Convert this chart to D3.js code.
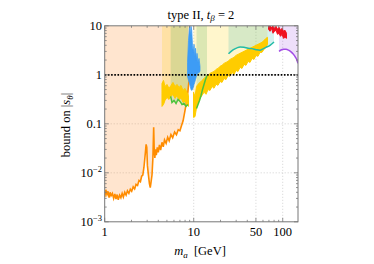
<!DOCTYPE html>
<html>
<head>
<meta charset="utf-8">
<script src="https://cdn.jsdelivr.net/npm/d3@7"></script>
<style>
  body { margin: 0; background: #fff; }
  svg { display: block; font-family: "Liberation Serif", "Times New Roman", serif; }
</style>
</head>
<body>
<div id="chart"></div>
<script>
// bound on |s_theta| vs m_a [GeV]
const xTicks = [1, 10, 50, 100]
const yTicks = [1e-3, 1e-2, 0.1, 1, 10]
const yTickLabels = ['10^−3', '10^−2', '0.1', '1', '10']
const xGrid = [10, 50, 100]
const yGrid = [0.01, 0.1, 1]

// [m_a, bound]
const orangeCurve = [
  [1.00, 0.0032], [1.03, 0.0045], [1.06, 0.0036], [1.09, 0.0042], [1.12, 0.0031], [1.15, 0.0040],
  [1.18, 0.0034], [1.22, 0.0038], [1.26, 0.0030], [1.30, 0.0037], [1.34, 0.0029], [1.38, 0.0036],
  [1.42, 0.0028], [1.47, 0.0035], [1.52, 0.0031], [1.57, 0.0038], [1.62, 0.0032], [1.68, 0.0040],
  [1.74, 0.0035], [1.80, 0.0043], [1.87, 0.0038], [1.94, 0.0046], [2.01, 0.0042], [2.09, 0.0052],
  [2.17, 0.0047], [2.25, 0.0058], [2.34, 0.0055], [2.43, 0.0070], [2.52, 0.0066], [2.60, 0.0085],
  [2.68, 0.0090], [2.76, 0.0130], [2.84, 0.0220], [2.92, 0.0380], [2.97, 0.0330], [3.02, 0.0140],
  [3.10, 0.0090], [3.18, 0.0060], [3.25, 0.0050], [3.32, 0.0065], [3.40, 0.0090], [3.48, 0.0200],
  [3.55, 0.0850], [3.60, 0.0300], [3.66, 0.0200], [3.72, 0.0300], [3.80, 0.0230], [3.90, 0.0330],
  [4.00, 0.0260], [4.12, 0.0370], [4.25, 0.0290], [4.40, 0.0420], [4.55, 0.0340], [4.70, 0.0470],
  [4.90, 0.0400], [5.10, 0.0530], [5.30, 0.0450], [5.55, 0.0600], [5.80, 0.0520], [6.10, 0.0680],
  [6.40, 0.0600], [6.70, 0.0760], [7.00, 0.0720], [7.30, 0.0920], [7.60, 0.1150], [7.95, 0.1800],
  [8.30, 0.2800], [8.60, 0.4500], [8.85, 0.7500], [9.05, 1.2000], [9.20, 2.0000], [9.33, 5.0000]
]

// [m_a, low, high] for the noisy bands
const yellowLeft = [
  [4.40, 0.226, 0.667], [4.58, 0.248, 0.768], [4.76, 0.300, 0.579], [5.01, 0.345, 0.636],
  [5.28, 0.314, 0.527], [5.56, 0.362, 0.607], [5.85, 0.397, 0.699], [6.17, 0.329, 0.579],
  [6.49, 0.379, 0.636], [6.84, 0.300, 0.553], [7.20, 0.345, 0.607], [7.58, 0.273, 0.480],
  [7.99, 0.286, 0.527], [8.41, 0.248, 0.437], [8.74, 0.226, 0.379]
]
const yellowRight = [
  [9.95, 0.135, 0.44], [10.34, 0.14, 0.36], [10.75, 0.21, 0.58], [11.18, 0.27, 0.64],
  [11.77, 0.33, 0.70], [12.40, 0.38, 0.77], [13.05, 0.44, 0.84], [13.75, 0.40, 0.93],
  [14.48, 0.50, 0.97], [15.25, 0.48, 1.07], [16.06, 0.58, 1.12], [16.91, 0.53, 1.17],
  [17.81, 0.64, 1.29], [18.75, 0.61, 1.35], [19.75, 0.73, 1.49], [20.80, 0.70, 1.56],
  [21.90, 0.84, 1.71], [23.07, 0.80, 1.79], [24.29, 0.97, 1.88], [25.58, 0.93, 2.06],
  [26.94, 1.12, 2.16], [28.37, 1.02, 2.27], [29.88, 1.23, 2.49], [31.46, 1.17, 2.61],
  [33.13, 1.42, 2.74], [34.89, 1.35, 2.87], [36.75, 1.63, 3.01], [38.70, 1.56, 3.16],
  [40.75, 1.88, 3.31], [42.92, 1.79, 3.47], [45.19, 2.16, 3.63], [47.59, 2.06, 3.81],
  [50.12, 2.49, 3.99], [52.78, 2.38, 4.18], [55.58, 2.87, 4.39], [58.54, 2.87, 4.60],
  [61.64, 3.31, 5.05], [64.92, 3.63, 5.55], [67.48, 4.18, 5.82]
]
const blueBand = [
  [8.52, 0.927, 1.79], [8.74, 0.768, 5.05], [8.97, 0.667, 9.77], [9.16, 0.579, 6.39],
  [9.33, 0.503, 9.77], [9.50, 0.480, 8.09], [9.69, 0.503, 3.99], [9.90, 0.553, 2.87],
  [10.08, 0.636, 4.18], [10.26, 0.699, 2.38], [10.48, 0.805, 3.47], [10.70, 0.927, 1.97],
  [10.89, 1.02, 2.74], [11.18, 1.07, 1.79], [11.47, 1.12, 2.16], [11.77, 1.17, 1.49]
]
const redBand = [
  [69.24, 8.48, 9.77], [71.99, 7.72, 9.77], [74.83, 8.89, 9.32], [77.8, 7.03, 9.77],
  [80.87, 7.72, 8.89], [84.1, 8.09, 9.77], [87.4, 6.70, 8.48], [90.9, 7.03, 9.32],
  [94.5, 6.10, 8.09], [98.2, 6.70, 8.89], [102.1, 5.55, 7.72], [106.1, 5.82, 8.09],
  [110.3, 5.55, 7.03]
]

const greenLeft = [
  [5.51, 0.362], [5.70, 0.273], [6.01, 0.300], [6.33, 0.260], [6.66, 0.314],
  [7.02, 0.286], [7.39, 0.248], [7.78, 0.260], [8.19, 0.226], [8.63, 0.248]
]
const greenRight = [
  [10.75, 0.206], [11.18, 0.248], [11.62, 0.300], [12.08, 0.379],
  [12.56, 0.503], [13.05, 0.636], [13.57, 0.805], [14.11, 0.972]
]
const tealCurve = [
  [24.6, 2.68], [27.65, 3.23], [30.66, 3.55], [33.13, 3.69], [36.75, 3.63], [40.75, 3.47],
  [45.19, 3.42], [50.12, 3.26], [55.58, 3.16], [60.07, 3.39], [64.92, 3.63], [71.99, 3.99], [79.86, 4.66]
]
const purpleCurve = [
  [90.9, 3.01], [95.7, 3.20], [102.1, 3.31], [108.9, 3.31], [116.2, 3.18],
  [124.0, 2.94], [132.2, 2.61], [139.3, 2.27], [144.8, 1.97], [148.5, 1.71]
]

const width = 374, height = 264
const box = {left: 104.7, right: 298, top: 25.8, bottom: 221.8}

const svg = d3.select('#chart').append('svg')
    .attr('width', width)
    .attr('height', height)

const x = d3.scaleLog().domain([1, 148.5]).range([box.left, box.right])
const y = d3.scaleLog().domain([1e-3, 10]).range([box.bottom, box.top])

svg.append('clipPath').attr('id', 'plotClip')
    .append('rect')
    .attr('x', box.left).attr('y', box.top)
    .attr('width', box.right - box.left).attr('height', box.bottom - box.top)

const plot = svg.append('g').attr('clip-path', 'url(#plotClip)')

// grid
plot.selectAll('.gx').data(xGrid).join('line')
    .attr('x1', d => x(d)).attr('x2', d => x(d))
    .attr('y1', box.top).attr('y2', box.bottom)
    .attr('stroke', '#c8c8c8').attr('stroke-width', 0.8).attr('stroke-dasharray', '1,2')
plot.selectAll('.gy').data(yGrid).join('line')
    .attr('x1', box.left).attr('x2', box.right)
    .attr('y1', d => y(d)).attr('y2', d => y(d))
    .attr('stroke', '#c8c8c8').attr('stroke-width', 0.8).attr('stroke-dasharray', '1,2')

// excluded regions: everything above each curve
const toTop = d3.area().x(d => x(d[0])).y0(box.top).y1(d => y(d[1]))
const bandTop = d3.area().x(d => x(d[0])).y0(box.top).y1(d => y(d[2]))

plot.append('path').datum(orangeCurve).attr('d', toTop)
    .attr('fill', '#ff7f0e').attr('fill-opacity', 0.2)
for (const band of [yellowLeft, yellowRight]) {
  plot.append('path').datum(band).attr('d', bandTop)
      .attr('fill', '#ffd200').attr('fill-opacity', 0.2)
}
for (const curve of [greenLeft, greenRight]) {
  plot.append('path').datum(curve).attr('d', toTop)
      .attr('fill', '#4caf50').attr('fill-opacity', 0.2)
}
plot.append('path').datum(tealCurve).attr('d', toTop)
    .attr('fill', '#20b2aa').attr('fill-opacity', 0.18)
plot.append('path').datum(purpleCurve).attr('d', toTop)
    .attr('fill', '#a24ce6').attr('fill-opacity', 0.18)

// curves
const line = d3.line().x(d => x(d[0])).y(d => y(d[1]))
const band = d3.area().x(d => x(d[0])).y0(d => y(d[1])).y1(d => y(d[2]))

plot.append('path').datum(orangeCurve).attr('d', line)
    .attr('fill', 'none').attr('stroke', '#ff8c00').attr('stroke-width', 1.6)

for (const b of [yellowLeft, yellowRight]) {
  plot.append('path').datum(b).attr('d', band)
      .attr('fill', '#ffcc00').attr('stroke', '#ffcc00').attr('stroke-width', 1)
}
for (const c of [greenLeft, greenRight]) {
  plot.append('path').datum(c).attr('d', line)
      .attr('fill', 'none').attr('stroke', '#4cc33c').attr('stroke-width', 1.5)
}
plot.append('path').datum(blueBand).attr('d', band)
    .attr('fill', '#3d9cf5').attr('stroke', '#3d9cf5').attr('stroke-width', 0.8)
plot.append('path').datum(tealCurve).attr('d', line.curve(d3.curveMonotoneX))
    .attr('fill', 'none').attr('stroke', '#22bba6').attr('stroke-width', 1.5)
plot.append('path').datum(redBand).attr('d', band)
    .attr('fill', '#f01020').attr('stroke', '#f01020').attr('stroke-width', 1)
plot.append('path').datum(purpleCurve).attr('d', line)
    .attr('fill', 'none').attr('stroke', '#a24ce6').attr('stroke-width', 1.5)

// |s_theta| = 1
plot.append('line')
    .attr('x1', box.left).attr('x2', box.right)
    .attr('y1', y(1)).attr('y2', y(1))
    .attr('stroke', '#000').attr('stroke-width', 1.8).attr('stroke-dasharray', '1.6,1.6')

// frame + ticks
svg.append('rect')
    .attr('x', box.left).attr('y', box.top)
    .attr('width', box.right - box.left).attr('height', box.bottom - box.top)
    .attr('fill', 'none').attr('stroke', '#777').attr('stroke-width', 1)

const xMinor = [2, 3, 4, 5, 6, 7, 8, 9, 20, 30, 40, 60, 70, 80, 90]
const yMinor = d3.range(-3, 1).flatMap(e => d3.range(2, 10).map(k => k * Math.pow(10, e)))
const tickG = svg.append('g').attr('stroke', '#777').attr('stroke-width', 0.8)
for (const [vals, len] of [[xTicks, 4], [xMinor, 2]]) {
  tickG.selectAll(null).data(vals).join('line')
      .attr('x1', d => x(d)).attr('x2', d => x(d))
      .attr('y1', box.bottom).attr('y2', box.bottom - len)
  tickG.selectAll(null).data(vals).join('line')
      .attr('x1', d => x(d)).attr('x2', d => x(d))
      .attr('y1', box.top).attr('y2', box.top + len)
}
for (const [vals, len] of [[yTicks, 4], [yMinor, 2]]) {
  tickG.selectAll(null).data(vals).join('line')
      .attr('y1', d => y(d)).attr('y2', d => y(d))
      .attr('x1', box.left).attr('x2', box.left + len)
  tickG.selectAll(null).data(vals).join('line')
      .attr('y1', d => y(d)).attr('y2', d => y(d))
      .attr('x1', box.right).attr('x2', box.right - len)
}

// tick labels
svg.selectAll('.xl').data(xTicks).join('text')
    .attr('x', d => x(d)).attr('y', 236)
    .attr('text-anchor', 'middle').attr('font-size', 12.5)
    .text(d => d)

yTicks.forEach((v, i) => {
  const [base, exp] = yTickLabels[i].split('^')
  const t = svg.append('text')
      .attr('x', 102).attr('y', y(v) + 4.3)
      .attr('text-anchor', 'end').attr('font-size', 12.5)
  t.append('tspan').text(base)
  if (exp) t.append('tspan').attr('dy', -5).attr('font-size', 8.5).text(exp)
})

// title
const title = svg.append('text')
    .attr('x', 201).attr('y', 18.5)
    .attr('text-anchor', 'middle').attr('font-size', 12.5)
title.append('tspan').text('type II, ')
title.append('tspan').attr('font-style', 'italic').text('t')
title.append('tspan').attr('font-style', 'italic').attr('font-size', 9).attr('dy', 2.5).text('β')
title.append('tspan').attr('dy', -2.5).text(' = 2')

// axis labels
const xl = svg.append('text')
    .attr('x', 200).attr('y', 255)
    .attr('text-anchor', 'middle').attr('font-size', 12.5)
xl.append('tspan').attr('font-style', 'italic').text('m')
xl.append('tspan').attr('font-style', 'italic').attr('font-size', 9).attr('dy', 2.5).text('a')
xl.append('tspan').attr('dy', -2.5).attr('xml:space', 'preserve').text('  [GeV]')

const yl = svg.append('text')
    .attr('transform', 'translate(70,125) rotate(-90)')
    .attr('text-anchor', 'middle').attr('font-size', 12.5)
yl.append('tspan').text('bound on  |')
yl.append('tspan').attr('font-style', 'italic').text('s')
yl.append('tspan').attr('font-style', 'italic').attr('font-size', 9).attr('dy', 2.5).text('θ')
yl.append('tspan').attr('dy', -2.5).text('|')
</script>
</body>
</html>
